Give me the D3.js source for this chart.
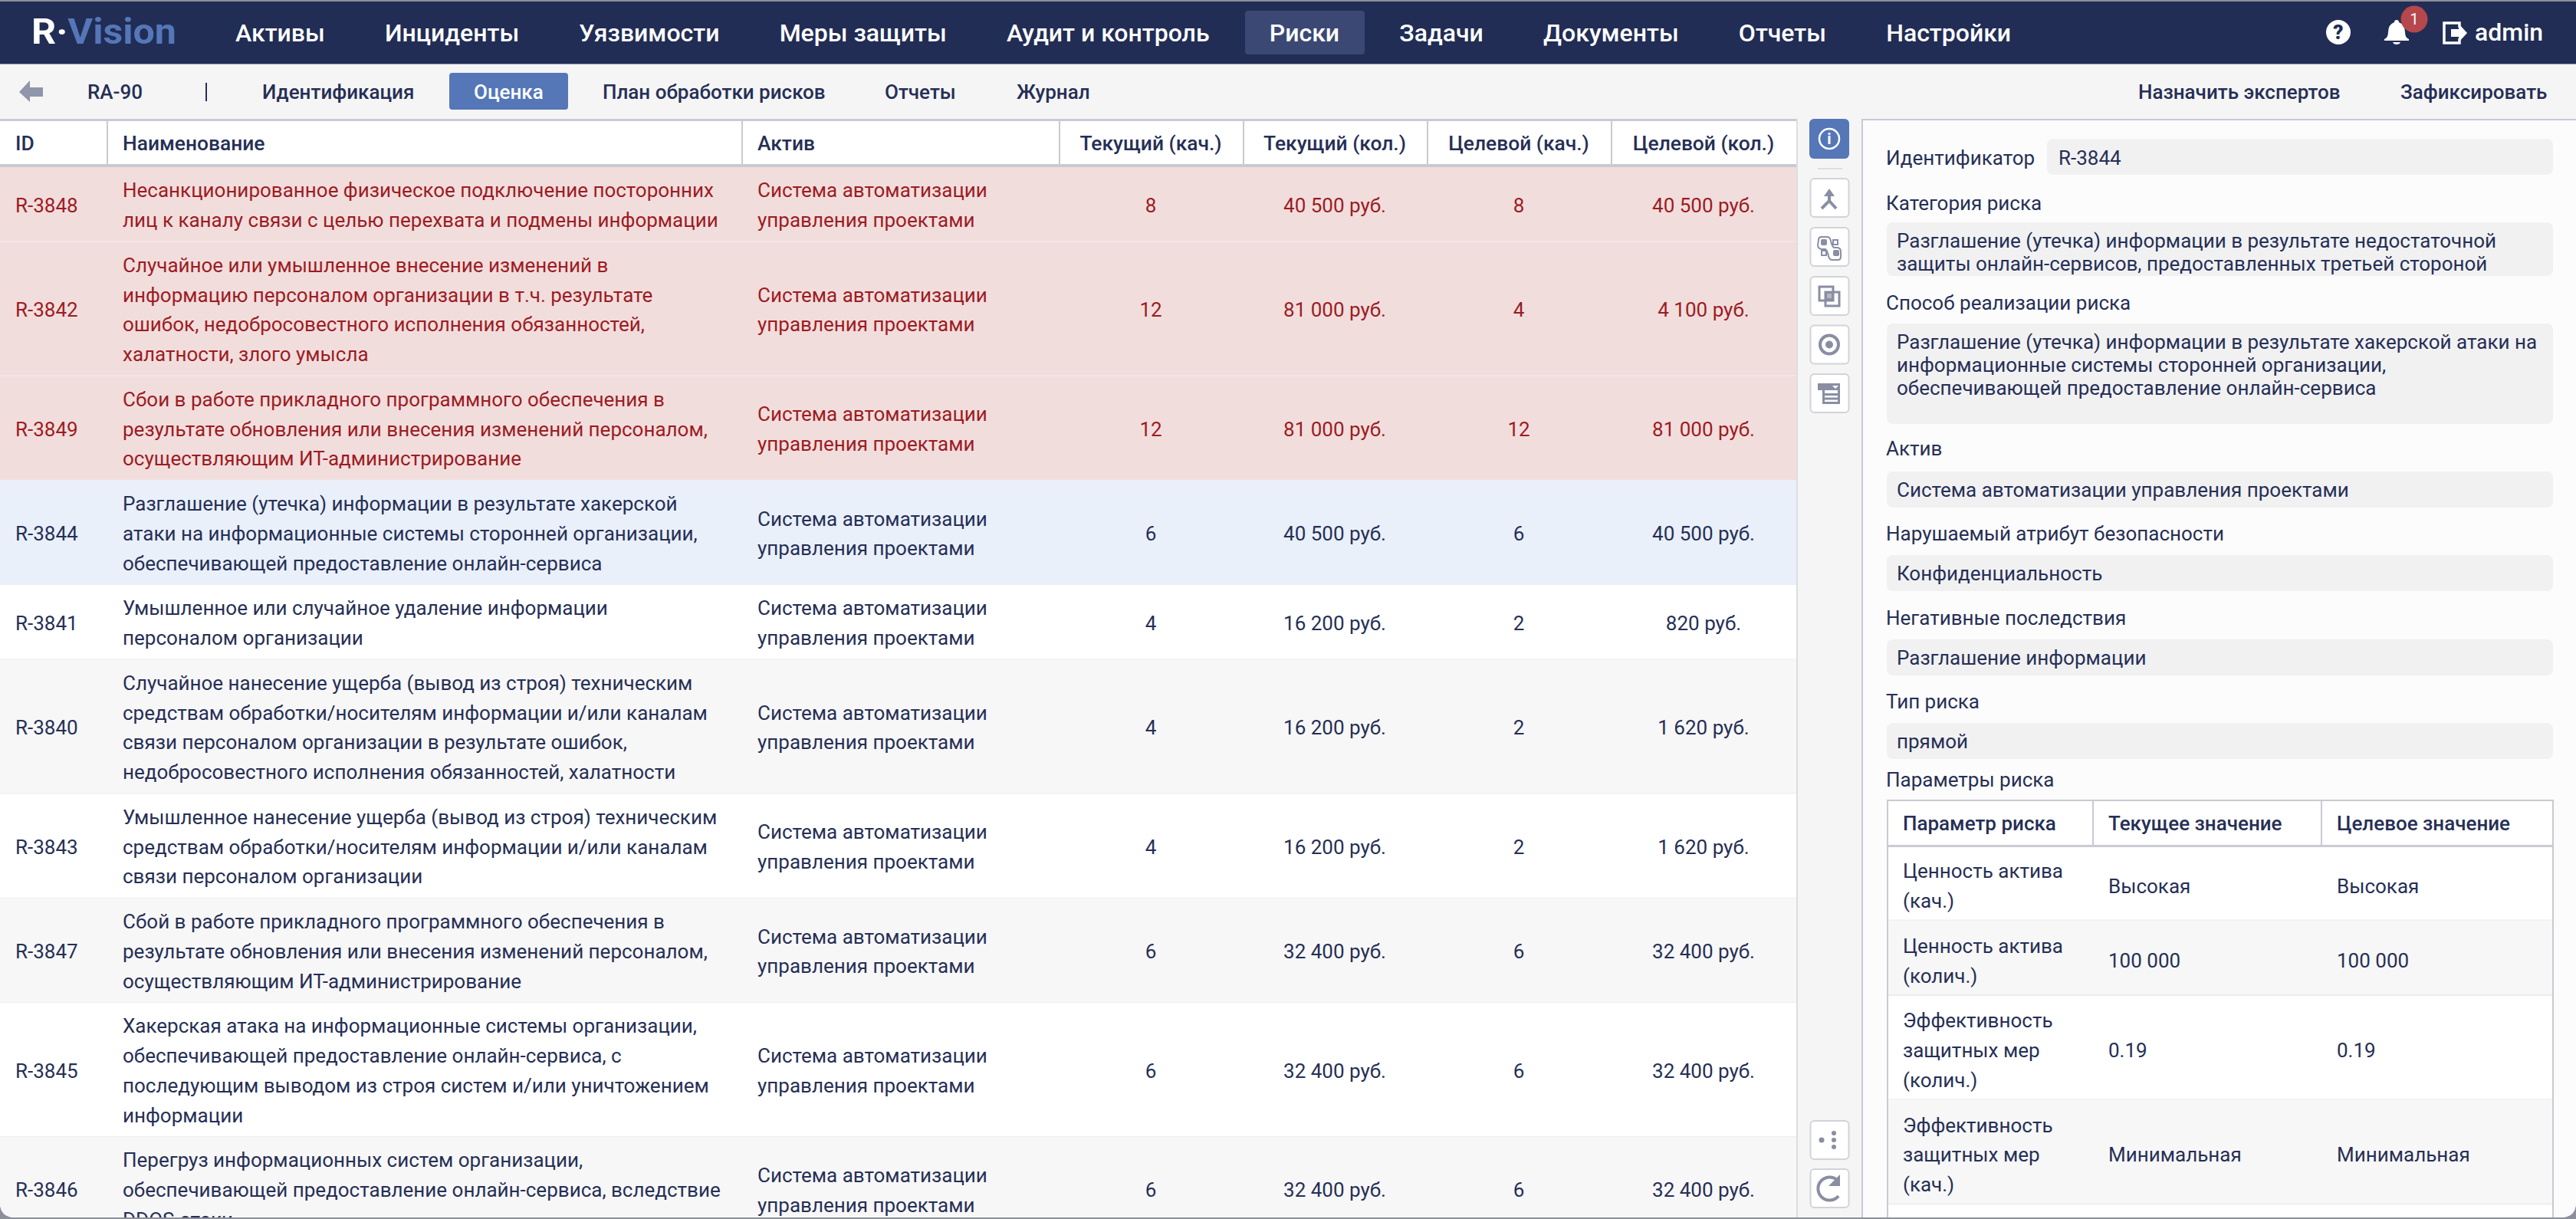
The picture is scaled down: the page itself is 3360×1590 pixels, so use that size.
<!DOCTYPE html>
<html>
<head>
<meta charset="utf-8">
<script src="https://cdn.jsdelivr.net/npm/d3@7"></script>
<style>
html, body { margin: 0; padding: 0; background: #8d8f99; overflow: hidden; }
svg { display: block; font-family: Roboto, sans-serif; }
</style>
</head>
<body>
<svg id="app" width="3360" height="1590"></svg>
<script>
// menu + tabs
var navItems = ['Активы', 'Инциденты', 'Уязвимости', 'Меры защиты', 'Аудит и контроль', 'Риски', 'Задачи', 'Документы', 'Отчеты', 'Настройки'];
var subTabs = ['Идентификация', 'Оценка', 'План обработки рисков', 'Отчеты', 'Журнал'];
var actions = ['Назначить экспертов', 'Зафиксировать'];

// main table
var columns = ['ID', 'Наименование', 'Актив', 'Текущий (кач.)', 'Текущий (кол.)', 'Целевой (кач.)', 'Целевой (кол.)'];
var ids = ['R-3848', 'R-3842', 'R-3849', 'R-3844', 'R-3841', 'R-3840', 'R-3843', 'R-3847', 'R-3845', 'R-3846'];
var names = [
  ['Несанкционированное физическое подключение посторонних', 'лиц к каналу связи с целью перехвата и подмены информации'],
  ['Случайное или умышленное внесение изменений в', 'информацию персоналом организации в т.ч. результате', 'ошибок, недобросовестного исполнения обязанностей,', 'халатности, злого умысла'],
  ['Сбои в работе прикладного программного обеспечения в', 'результате обновления или внесения изменений персоналом,', 'осуществляющим ИТ-администрирование'],
  ['Разглашение (утечка) информации в результате хакерской', 'атаки на информационные системы сторонней организации,', 'обеспечивающей предоставление онлайн-сервиса'],
  ['Умышленное или случайное удаление информации', 'персоналом организации'],
  ['Случайное нанесение ущерба (вывод из строя) техническим', 'средствам обработки/носителям информации и/или каналам', 'связи персоналом организации в результате ошибок,', 'недобросовестного исполнения обязанностей, халатности'],
  ['Умышленное нанесение ущерба (вывод из строя) техническим', 'средствам обработки/носителям информации и/или каналам', 'связи персоналом организации'],
  ['Сбой в работе прикладного программного обеспечения в', 'результате обновления или внесения изменений персоналом,', 'осуществляющим ИТ-администрирование'],
  ['Хакерская атака на информационные системы организации,', 'обеспечивающей предоставление онлайн-сервиса, с', 'последующим выводом из строя систем и/или уничтожением', 'информации'],
  ['Перегруз информационных систем организации,', 'обеспечивающей предоставление онлайн-сервиса, вследствие', 'DDOS-атаки']
];
var asset = ['Система автоматизации', 'управления проектами'];
var currentQual = [8, 12, 12, 6, 4, 4, 4, 6, 6, 6];
var currentQuant = ['40 500 руб.', '81 000 руб.', '81 000 руб.', '40 500 руб.', '16 200 руб.', '16 200 руб.', '16 200 руб.', '32 400 руб.', '32 400 руб.', '32 400 руб.'];
var targetQual = [8, 4, 12, 6, 2, 2, 2, 6, 6, 6];
var targetQuant = ['40 500 руб.', '4 100 руб.', '81 000 руб.', '40 500 руб.', '820 руб.', '1 620 руб.', '1 620 руб.', '32 400 руб.', '32 400 руб.', '32 400 руб.'];
var redRows = 3, selectedRow = 3;

// right panel
var fieldLabels = ['Категория риска', 'Способ реализации риска', 'Актив', 'Нарушаемый атрибут безопасности', 'Негативные последствия', 'Тип риска'];
var fieldValues = [
  ['Разглашение (утечка) информации в результате недостаточной', 'защиты онлайн-сервисов, предоставленных третьей стороной'],
  ['Разглашение (утечка) информации в результате хакерской атаки на', 'информационные системы сторонней организации,', 'обеспечивающей предоставление онлайн-сервиса'],
  ['Система автоматизации управления проектами'],
  ['Конфиденциальность'],
  ['Разглашение информации'],
  ['прямой']
];
var paramColumns = ['Параметр риска', 'Текущее значение', 'Целевое значение'];
var paramNames = [['Ценность актива', '(кач.)'], ['Ценность актива', '(колич.)'], ['Эффективность', 'защитных мер', '(колич.)'], ['Эффективность', 'защитных мер', '(кач.)']];
var paramCurrent = ['Высокая', '100 000', '0.19', 'Минимальная'];
var paramTarget = ['Высокая', '100 000', '0.19', 'Минимальная'];

var dark = '#262f56', red = '#9c1c22', line = '#c9cad2';
var fs = 26;
var svg = d3.select('#app');

function rect(g, x, y, w, h, fill, r) {
  return g.append('rect').attr('x', x).attr('y', y).attr('width', w).attr('height', h).attr('fill', fill).attr('rx', r || 0);
}
function label(g, str, x, y, size, weight, fill, anchor) {
  return g.append('text').attr('x', x).attr('y', y).attr('dy', '0.35em')
    .attr('font-size', size).attr('font-weight', weight).attr('fill', fill)
    .attr('text-anchor', anchor || 'start').text(str);
}
// vertically centred block of lines
function block(g, lines, x, cy, lh, size, weight, fill) {
  lines.forEach(function (l, i) {
    label(g, l, x, cy + (i - (lines.length - 1) / 2) * lh, size, weight, fill);
  });
}

// clip to the window with its rounded lower corners
var defs = svg.append('defs');
defs.append('clipPath').attr('id', 'win').append('path')
  .attr('d', 'M0 2H3360V1568Q3360 1588 3340 1588H20Q0 1588 0 1568Z');
var page = svg.append('g').attr('clip-path', 'url(#win)');
rect(page, 0, 0, 3360, 1590, '#f5f5f5');

// ---- top bar
var nav = page.append('g');
rect(nav, 0, 0, 3360, 83, '#212d55');
rect(nav, 0, 83, 3360, 1, '#8d93a8');
rect(nav, 1624, 14, 156, 57, '#3c4874', 4);
var logo = nav.append('text').attr('x', 41).attr('y', 57).attr('font-size', 46).attr('font-weight', 700)
  .attr('textLength', 189).attr('lengthAdjust', 'spacingAndGlyphs');
logo.append('tspan').attr('fill', '#fff').text('R·');
logo.append('tspan').attr('fill', '#5577b8').text('Vision');
var navX = 307;
navItems.forEach(function (d) {
  var t = label(nav, d, navX, 43, 32, 500, '#fff');
  navX += t.node().getComputedTextLength() + 78.2;
});
// help, bell, logout
nav.append('circle').attr('cx', 3050).attr('cy', 42).attr('r', 16).attr('fill', '#fff');
label(nav, '?', 3050, 42, 26, 900, '#212d55', 'middle');
nav.append('path').attr('fill', '#fff')
  .attr('d', 'M3126 26q3 0 3 3q8 3 8 13q0 7 5 9v2h-32v-2q5-2 5-9q0-10 8-13q0-3 3-3zM3121 55h10q-1 3-5 3t-5-3z');
nav.append('circle').attr('cx', 3149).attr('cy', 25).attr('r', 17.5).attr('fill', '#b5474d');
label(nav, '1', 3149, 25, 20, 400, '#fff', 'middle');
nav.append('path').attr('fill', 'none').attr('stroke', '#fff').attr('stroke-width', 3.5)
  .attr('d', 'M3208 36V30H3188V56H3208V50');
nav.append('path').attr('fill', '#fff').attr('d', 'M3197 38H3207V31L3218 43L3207 55V48H3197Z');
label(nav, 'admin', 3228, 42, 32, 500, '#fff');

// ---- sub bar
var sub = page.append('g');
var subY = 120;
sub.append('path').attr('fill', '#8f96ab').attr('d', 'M25 120L39 105V114H56V126H39V133Z');
label(sub, 'RA-90', 114, subY, fs, 500, dark);
rect(sub, 268, 108, 2, 24, dark);
rect(sub, 586, 95, 155, 48, '#5577b8', 4);
var subX = [342, 618, 786, 1154, 1326];
subTabs.forEach(function (d, i) {
  label(sub, d, subX[i], subY, fs, 500, i === 1 ? '#fff' : dark);
});
label(sub, actions[0], 2789, subY, fs, 500, dark);
label(sub, actions[1], 3131, subY, fs, 500, dark);

// ---- main table
var colEdges = [0, 139, 967, 1381, 1621, 1861, 2101, 2343];
var table = page.append('g');
rect(table, 0, 155, 2343, 1435, '#fff');
rect(table, 0, 155, 2343, 3, line);
rect(table, 0, 214, 2343, 4, line);
rect(table, 2343, 155, 2, 1435, '#dcdde2');
colEdges.slice(1, -1).forEach(function (x) { rect(table, x, 157, 2, 58, line); });
columns.forEach(function (c, i) {
  var centred = i > 2;
  var x = centred ? (colEdges[i] + colEdges[i + 1]) / 2 : colEdges[i] + (i === 0 ? 20 : 21);
  label(table, c, x, 187, 26.4, 500, dark, centred ? 'middle' : 'start');
});

var lineH = 38.75, rowPad = 20;
var y0 = 218;
var rows = table.append('g');
ids.forEach(function (id, i) {
  var h = names[i].length * lineH + rowPad;
  var cy = y0 + h / 2 + 1;
  var isRed = i < redRows;
  var fill = isRed ? '#f2dddd' : i === selectedRow ? '#e9f0fa' : (i % 2 === 1 ? '#f7f7f7' : '#fff');
  var color = isRed ? red : dark;
  rect(rows, 0, y0, 2343, h, fill);
  rect(rows, 0, y0 + h - 1, 2343, 2, isRed ? '#f7ecec' : '#eeeeef');
  label(rows, id, 20, cy, fs, 400, color);
  block(rows, names[i], 160, cy, lineH, fs, 400, color);
  block(rows, asset, 988, cy, lineH, fs, 400, color);
  [currentQual[i], currentQuant[i], targetQual[i], targetQuant[i]].forEach(function (v, k) {
    label(rows, v, (colEdges[k + 3] + colEdges[k + 4]) / 2, cy, fs, 400, color, 'middle');
  });
  y0 += h;
});

// ---- tool strip
var tools = page.append('g');
rect(tools, 2360, 155, 52, 52, '#5577b8', 6);
tools.append('circle').attr('cx', 2386).attr('cy', 181).attr('r', 13).attr('fill', 'none').attr('stroke', '#fff').attr('stroke-width', 2.5);
label(tools, 'i', 2386, 181, 20, 700, '#fff', 'middle');
rect(tools, 2371, 219, 32, 2, '#dddde2');
var toolCentres = [258, 322, 386, 449.5, 513, 1487, 1550];
toolCentres.forEach(function (cy) {
  rect(tools, 2361.5, cy - 25, 50, 50, '#fff', 5).attr('stroke', '#d2d3d9').attr('stroke-width', 2);
});
var ic = '#8a8ea3';
function stroked(d, w) {
  return tools.append('path').attr('fill', 'none').attr('stroke', ic).attr('stroke-width', w).attr('d', d);
}
// merge
stroked('M2386 254V262L2376 272M2386 262L2395 272', 4);
tools.append('path').attr('fill', ic).attr('d', 'M2386 246L2393 256H2379Z');
// node scheme
stroked('M2372 313q0-4 4-4h7q4 0 5 5q1 6 4 9h5q4 1 4 5v7q0 4-4 4h-7q-4 0-5-5q-1-6-4-9h-5q-5-1-5-5z', 2);
rect(tools, 2375, 312, 8, 8, ic, 2);
rect(tools, 2391, 326, 8, 8, ic, 2);
stroked('M2391 313h6v6h-6zM2376 327h6v6h-6z', 2);
// overlap
stroked('M2373 374h18v18h-18zM2381 381h18v18h-18z', 3);
rect(tools, 2380, 380, 12, 12, ic);
rect(tools, 2383, 383, 6, 6, '#b4b6c2');
// target
tools.append('circle').attr('cx', 2386).attr('cy', 449.5).attr('r', 12).attr('fill', 'none').attr('stroke', ic).attr('stroke-width', 4);
tools.append('circle').attr('cx', 2386).attr('cy', 449.5).attr('r', 5).attr('fill', ic);
// list with header
rect(tools, 2371, 500, 29, 9, ic);
tools.append('path').attr('fill', '#fff').attr('d', 'M2390 503H2398L2394 507Z');
stroked('M2378.5 509V525.5H2398.5V509M2379 514.5H2398M2379 520H2398', 3);
// links
[[2376, 1487, 3.5], [2392, 1478, 3], [2392, 1487, 3], [2392, 1496, 3]].forEach(function (p) {
  tools.append('circle').attr('cx', p[0]).attr('cy', p[1]).attr('r', p[2]).attr('fill', ic);
});
stroked('M2398 1541A15 15 0 1 0 2398 1560', 4);
tools.append('path').attr('fill', ic).attr('d', 'M2400 1532V1547H2385Z');

// ---- details panel
var panel = page.append('g');
rect(panel, 2428, 155, 932, 1435, '#fcfcfc');
rect(panel, 2428, 155, 2, 1435, line);
rect(panel, 2428, 155, 932, 2, line);
label(panel, 'Идентификатор', 2460, 206, fs, 400, dark);
rect(panel, 2670, 181, 660, 47, '#f1f1f2', 8);
label(panel, ids[selectedRow], 2685, 206, fs, 400, dark);

var labelY = d3.scaleOrdinal().domain(fieldLabels).range([265, 395, 585, 696, 806, 915]);
var boxTop = d3.scaleOrdinal().domain(fieldLabels).range([290, 422, 615, 724, 834, 943]);
var fieldLine = 30;
fieldLabels.forEach(function (f, i) {
  var n = fieldValues[i].length;
  var h = n === 1 ? 47 : n === 2 ? 70 : 131;
  var shift = n === 3 ? -12 : n === 2 ? 4 : 0;
  label(panel, f, 2460, labelY(f), fs, 400, dark);
  rect(panel, 2461, boxTop(f), 869, h, '#f1f1f2', 8);
  block(panel, fieldValues[i], 2474, boxTop(f) + h / 2 + shift, fieldLine, fs, 400, dark);
});

label(panel, 'Параметры риска', 2460, 1017, fs, 400, dark);
var pEdges = [2461, 2729, 3027, 3330];
var pTop = 1043, pHead = 1103;
rect(panel, 2461, pTop, 869, 560, '#fff');
paramColumns.forEach(function (c, i) {
  label(panel, c, pEdges[i] + 21, 1074, fs, 500, dark);
});
var py = pHead;
paramNames.forEach(function (p, i) {
  var h = p.length * lineH + rowPad;
  var cy = py + h / 2 + 4;
  if (i % 2 === 1) rect(panel, 2461, py, 869, h, '#f7f7f7');
  rect(panel, 2461, py + h - 1, 869, 2, '#ededee');
  block(panel, p, pEdges[0] + 21, cy, lineH, fs, 400, dark);
  label(panel, paramCurrent[i], pEdges[1] + 21, cy, fs, 400, dark);
  label(panel, paramTarget[i], pEdges[2] + 21, cy, fs, 400, dark);
  py += h;
});
rect(panel, 2461, pTop, 869, 2, line);
rect(panel, 2461, pHead - 1, 869, 3, line);
rect(panel, 2461, pTop, 2, 560, line);
rect(panel, 3329, pTop, 2, 560, line);
rect(panel, 2729, pTop, 2, pHead - pTop, line);
rect(panel, 3027, pTop, 2, pHead - pTop, line);
</script>
</body>
</html>
